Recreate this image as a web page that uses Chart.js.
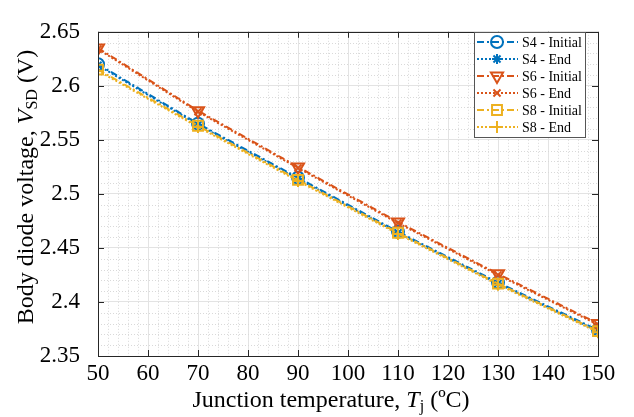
<!DOCTYPE html>
<html>
<head>
<meta charset="utf-8">
<script src="https://cdn.jsdelivr.net/npm/chart.js@4.4.1/dist/chart.umd.min.js"></script>
<style>
  body { margin: 0; background: #fff; }
  canvas { display: block; }
</style>
</head>
<body>
<canvas id="chart" width="634" height="417"></canvas>
<script>
// junction temperature (degC) and body diode voltage (V)
const temps = [50, 70, 90, 110, 130, 150];
const s4Initial = [2.620, 2.565, 2.515, 2.465, 2.418, 2.374];
const s4End = [2.619, 2.564, 2.514, 2.464, 2.417, 2.373];
const s6Initial = [2.635, 2.577, 2.525, 2.474, 2.426, 2.380];
const s6End = [2.634, 2.576, 2.524, 2.473, 2.425, 2.379];
const s8Initial = [2.615, 2.563, 2.513, 2.464, 2.417, 2.373];
const s8End = [2.614, 2.562, 2.512, 2.463, 2.416, 2.372];
const xTicks = [50, 60, 70, 80, 90, 100, 110, 120, 130, 140, 150];
const yTicks = [2.35, 2.4, 2.45, 2.5, 2.55, 2.6, 2.65];

const BLUE = '#0072BD';
const ORANGE = '#D95319';
const YELLOW = '#EDB120';
const SERIF = '"Liberation Serif", "Times New Roman", serif';
const DASHDOT = [7, 3, 2, 3];
const DOTTED = [2, 2];

const toXY = vals => vals.map((v, i) => ({ x: temps[i], y: v }));

function series(label, vals, color, dash, style, radius, rotation, order) {
  return {
    label: label,
    data: toXY(vals),
    borderColor: color,
    backgroundColor: 'rgba(0,0,0,0)',
    borderWidth: 2,
    borderDash: dash,
    pointStyle: style,
    pointRadius: radius,
    pointRotation: rotation,
    pointBorderWidth: 2,
    pointBorderColor: color,
    pointBackgroundColor: 'rgba(0,0,0,0)',
    tension: 0,
    order: order,
  };
}

const datasets = [
  series('S4 - Initial', s4Initial, BLUE, DASHDOT, 'circle', 6, 0, 6),
  series('S4 - End', s4End, BLUE, DOTTED, 'star', 5, 0, 5),
  series('S6 - Initial', s6Initial, ORANGE, DASHDOT, 'triangle', 7, 180, 4),
  series('S6 - End', s6End, ORANGE, DOTTED, 'crossRot', 5, 0, 3),
  series('S8 - Initial', s8Initial, YELLOW, DASHDOT, 'rect', 7, 0, 2),
  series('S8 - End', s8End, YELLOW, DOTTED, 'cross', 6, 0, 1),
];

// text made of pieces: normal, italic and subscript
function setFont(ctx, p) {
  ctx.font = (p.italic ? 'italic ' : '') + (p.sub ? 16 : 24) + 'px ' + SERIF;
}
function drawRich(ctx, parts, cx, cy) {
  let w = 0;
  parts.forEach(p => { setFont(ctx, p); w += ctx.measureText(p.t).width; });
  let x = cx - w / 2;
  ctx.textBaseline = 'middle';
  ctx.textAlign = 'left';
  parts.forEach(p => {
    setFont(ctx, p);
    ctx.fillText(p.t, x, cy + (p.sub ? 6 : 0));
    x += ctx.measureText(p.t).width;
  });
}

function drawMarker(ctx, ds, x, y) {
  const opts = {
    pointStyle: ds.pointStyle,
    radius: ds.pointRadius,
    rotation: ds.pointRotation,
    borderWidth: ds.pointBorderWidth,
  };
  ctx.save();
  ctx.strokeStyle = ds.pointBorderColor;
  ctx.fillStyle = 'rgba(0,0,0,0)';
  ctx.lineWidth = ds.pointBorderWidth;
  ctx.setLineDash([]);
  Chart.helpers.drawPoint(ctx, opts, x, y);
  ctx.restore();
}

const matlabAxes = {
  id: 'matlabAxes',
  beforeDatasetsDraw(chart) {
    // dotted minor grid
    const { ctx, chartArea: a, scales: { x, y } } = chart;
    ctx.save();
    ctx.strokeStyle = '#d9d9d9';
    ctx.lineWidth = 1;
    ctx.setLineDash([1, 2]);
    for (let v = 52; v < 150; v += 2) {
      if (v % 10 === 0) continue;
      const px = Math.round(x.getPixelForValue(v)) + 0.5;
      ctx.beginPath(); ctx.moveTo(px, a.top); ctx.lineTo(px, a.bottom); ctx.stroke();
    }
    for (let i = 236; i < 265; i++) {
      if (i % 5 === 0) continue;
      const py = Math.round(y.getPixelForValue(i / 100)) + 0.5;
      ctx.beginPath(); ctx.moveTo(a.left, py); ctx.lineTo(a.right, py); ctx.stroke();
    }
    ctx.restore();
  },
  afterDraw(chart) {
    const { ctx, chartArea: a, scales: { x, y } } = chart;
    ctx.save();
    // box and inward ticks
    ctx.strokeStyle = '#262626';
    ctx.lineWidth = 1;
    ctx.strokeRect(Math.round(a.left) + 0.5, Math.round(a.top) + 0.5,
      Math.round(a.right - a.left), Math.round(a.bottom - a.top));
    ctx.beginPath();
    xTicks.forEach(v => {
      const px = Math.round(x.getPixelForValue(v)) + 0.5;
      ctx.moveTo(px, a.bottom); ctx.lineTo(px, a.bottom - 6);
      ctx.moveTo(px, a.top); ctx.lineTo(px, a.top + 6);
    });
    yTicks.forEach(v => {
      const py = Math.round(y.getPixelForValue(v)) + 0.5;
      ctx.moveTo(a.left, py); ctx.lineTo(a.left + 6, py);
      ctx.moveTo(a.right, py); ctx.lineTo(a.right - 6, py);
    });
    ctx.stroke();

    // axis titles
    ctx.fillStyle = '#000';
    drawRich(ctx, [
      { t: 'Junction temperature, ' }, { t: 'T', italic: true },
      { t: 'j', sub: true }, { t: ' (ºC)' },
    ], 331, 401);
    ctx.save();
    ctx.translate(27, 187);
    ctx.rotate(-Math.PI / 2);
    drawRich(ctx, [
      { t: 'Body diode voltage, ' }, { t: 'V', italic: true },
      { t: 'SD', sub: true }, { t: ' (V)' },
    ], 0, 0);
    ctx.restore();

    // legend box
    const lx = 474, ly = 32, lw = 111, lh = 105;
    ctx.fillStyle = '#fff';
    ctx.fillRect(lx, ly, lw, lh);
    ctx.strokeStyle = '#555';
    ctx.strokeRect(lx + 0.5, ly + 0.5, lw, lh);
    chart.data.datasets.forEach((ds, i) => {
      const ry = ly + 10 + i * 17;
      ctx.save();
      ctx.strokeStyle = ds.borderColor;
      ctx.lineWidth = 2;
      ctx.setLineDash(ds.borderDash);
      ctx.beginPath(); ctx.moveTo(477, ry); ctx.lineTo(518, ry); ctx.stroke();
      ctx.restore();
      drawMarker(ctx, ds, 497, ry);
      ctx.fillStyle = '#000';
      ctx.font = '14px ' + SERIF;
      ctx.textAlign = 'left';
      ctx.textBaseline = 'middle';
      ctx.fillText(ds.label, 522, ry + 1);
    });
    ctx.restore();
  },
};

new Chart(document.getElementById('chart'), {
  type: 'line',
  data: { datasets: datasets },
  options: {
    responsive: false,
    animation: false,
    devicePixelRatio: 1,
    layout: { padding: { top: 16, right: 36, left: 0, bottom: 0 } },
    plugins: { legend: { display: false }, tooltip: { enabled: false } },
    scales: {
      x: {
        type: 'linear',
        min: 50,
        max: 150,
        afterFit: s => { s.height = 61; },
        afterBuildTicks: s => { s.ticks = xTicks.map(v => ({ value: v })); },
        ticks: { color: '#000', font: { family: SERIF, size: 23 }, padding: 4, maxRotation: 0 },
        grid: { color: '#e3e3e3', drawTicks: false },
        border: { display: false },
      },
      y: {
        type: 'linear',
        min: 2.35,
        max: 2.65,
        afterFit: s => { s.width = 98; },
        afterBuildTicks: s => { s.ticks = yTicks.map(v => ({ value: v })); },
        ticks: {
          color: '#000',
          font: { family: SERIF, size: 23 },
          padding: 18,
          callback: v => String(Math.round(v * 100) / 100),
        },
        grid: { color: '#e3e3e3', drawTicks: false },
        border: { display: false },
      },
    },
  },
  plugins: [matlabAxes],
});
</script>
</body>
</html>
